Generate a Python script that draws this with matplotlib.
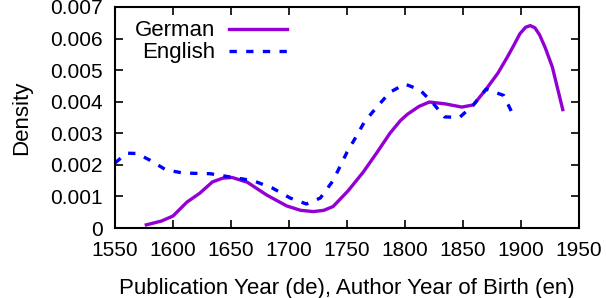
import matplotlib
matplotlib.use('Agg')
import matplotlib.pyplot as plt

# values
german_years = [1577, 1590, 1600, 1612, 1623, 1634, 1643, 1651, 1664, 1681, 1698,
                1710, 1721, 1730, 1738, 1751, 1764, 1776, 1787, 1796, 1802, 1812,
                1821, 1835, 1849, 1859, 1870, 1880, 1888, 1894, 1899, 1904, 1908,
                1912, 1916, 1921, 1927, 1936]
german_density = [0.00010, 0.00022, 0.00038, 0.00082, 0.00110, 0.00146, 0.00158, 0.00160,
                  0.00145, 0.00104, 0.00070, 0.00056, 0.00052, 0.00056, 0.00068, 0.00118,
                  0.00177, 0.00240, 0.00300, 0.00340, 0.00360, 0.00385, 0.00399, 0.00393,
                  0.00383, 0.00390, 0.00440, 0.00490, 0.00540, 0.00580, 0.00615, 0.00636,
                  0.00641, 0.00634, 0.00612, 0.00570, 0.00510, 0.00375]

english_years = [1550, 1560, 1569, 1580, 1594, 1609, 1632, 1652, 1669, 1686, 1701,
                 1715, 1727, 1738, 1750, 1758, 1765, 1775, 1787, 1800, 1813, 1824,
                 1834, 1847, 1859, 1870, 1885, 1893]
english_density = [0.00206, 0.00237, 0.00236, 0.00215, 0.00184, 0.00174, 0.00172, 0.00160,
                   0.00150, 0.00126, 0.00095, 0.00076, 0.00095, 0.00150, 0.00240, 0.00290,
                   0.00336, 0.00380, 0.00430, 0.00456, 0.00437, 0.00396, 0.00352, 0.00350,
                   0.00390, 0.00440, 0.00420, 0.00360]

x_ticks = [1550, 1600, 1650, 1700, 1750, 1800, 1850, 1900, 1950]
y_ticks = [0, 0.001, 0.002, 0.003, 0.004, 0.005, 0.006, 0.007]
y_labels = ['0', '0.001', '0.002', '0.003', '0.004', '0.005', '0.006', '0.007']

plt.rcParams['font.family'] = ['Liberation Sans', 'DejaVu Sans']
plt.rcParams['font.size'] = 15

fig = plt.figure(figsize=(6.06, 2.98), dpi=100)
ax = fig.add_axes([115 / 606, 1 - 228 / 298, 464 / 606, 221 / 298])

ax.plot(german_years, german_density, color='#9400D3', linewidth=2.4,
        solid_joinstyle='round', label='German')
ax.plot(english_years, english_density, color='#0000FF', linewidth=2.4,
        linestyle=(0, (2.2, 2.8)), label='English')

ax.set_xlim(1550, 1950)
ax.set_ylim(0, 0.007)
ax.set_xticks(x_ticks)
ax.set_yticks(y_ticks)
ax.set_yticklabels(y_labels)
ax.tick_params(direction='in', top=True, right=True, length=6, width=1.2, pad=9,
               labelsize=15)
for s in ax.spines.values():
    s.set_linewidth(1.5)

ax.set_xlabel('Publication Year (de), Author Year of Birth (en)', fontsize=16, labelpad=13)
ax.set_ylabel('Density', fontsize=16, labelpad=13)

ax.legend(loc='upper left', frameon=False, markerfirst=False, handlelength=2.6,
          handletextpad=0.6, labelspacing=0.05, borderaxespad=0.2,
          bbox_to_anchor=(0.015, 1.0), fontsize=16)

fig.savefig('out.png', dpi=100)
